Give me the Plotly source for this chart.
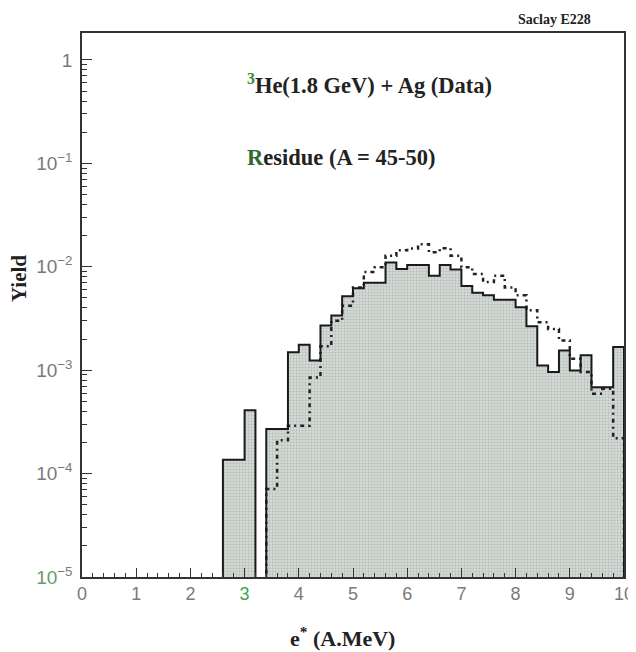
import plotly.graph_objects as go

# ---- data ----
bin_left = [2.6, 2.8, 3.0, 3.2, 3.4, 3.6, 3.8, 4.0, 4.2, 4.4, 4.6, 4.8, 5.0, 5.2, 5.4,
            5.6, 5.8, 6.0, 6.2, 6.4, 6.6, 6.8, 7.0, 7.2, 7.4, 7.6, 7.8, 8.0, 8.2, 8.4,
            8.6, 8.8, 9.0, 9.2, 9.4, 9.6, 9.8]
bin_width = 0.2
yield_data = [1.36e-4, 1.36e-4, 4.1e-4, 0.0, 2.7e-4, 2.7e-4, 1.49e-3, 1.76e-3, 1.24e-3, 2.7e-3,
              3.37e-3, 5.19e-3, 6.2e-3, 7.0e-3, 7.0e-3, 1.1e-2, 9.5e-3, 1.04e-2, 1.04e-2, 8.2e-3,
              1.04e-2, 9.4e-3, 6.5e-3, 5.6e-3, 5.3e-3, 4.8e-3, 4.8e-3, 4.06e-3, 2.66e-3, 1.11e-3,
              9.6e-4, 1.55e-3, 9.9e-4, 1.39e-3, 6.85e-4, 6.85e-4, 1.67e-3]
yield_dotted = [0.0, 0.0, 0.0, 0.0, 7.1e-5, 2.1e-4, 2.9e-4, 2.9e-4, 8.5e-4, 1.7e-3,
                3.0e-3, 4.2e-3, 6.3e-3, 8.9e-3, 9.9e-3, 1.28e-2, 1.44e-2, 1.5e-2, 1.65e-2, 1.38e-2,
                1.51e-2, 1.28e-2, 9.9e-3, 8.5e-3, 7.1e-3, 8.2e-3, 6.3e-3, 5.3e-3, 3.8e-3, 2.9e-3,
                2.5e-3, 1.94e-3, 1.29e-3, 9.6e-4, 5.9e-4, 6.6e-4, 2.2e-4]
x_ticks = [0, 1, 2, 3, 4, 5, 6, 7, 8, 9, 10]
x_ticktext = ["0", "1", "2", "<span style='color:#3fa33f'>3</span>", "4", "5", "6", "7", "8", "9", "10"]
y_tickvals = [1e-5, 1e-4, 1e-3, 1e-2, 1e-1, 1]
y_ticktext = ["<span style='color:#6a9a6a'>10</span><sup>−5</sup>", "10<sup>−4</sup>", "10<sup>−3</sup>",
              "10<sup>−2</sup>", "10<sup>−1</sup>", "1"]

FLOOR = 1e-7  # below the visible range: an empty bin


def step_path(lefts, vals, width):
    xs, ys = [], []
    i0 = 0
    while i0 < len(vals) and vals[i0] <= 0:
        i0 += 1
    xs.append(lefts[i0]); ys.append(FLOOR)
    for l, v in zip(lefts[i0:], vals[i0:]):
        xs.append(l); ys.append(v if v > 0 else FLOOR)
    end = lefts[-1] + width
    xs.append(end); ys.append(ys[-1])
    xs.append(end); ys.append(FLOOR)
    return xs, ys


sx, sy = step_path(bin_left, yield_data, bin_width)
dx, dy = step_path(bin_left, yield_dotted, bin_width)

fig = go.Figure()
fig.add_trace(go.Scatter(
    x=sx, y=sy, mode="lines", line=dict(width=0, shape="hv"),
    fill="toself", fillcolor="#cdd4d0",
    fillpattern=dict(shape=".", size=3, solidity=0.3, fgcolor="#939c97", bgcolor="#d4dad6"),
    hoverinfo="skip", showlegend=False))
fig.add_trace(go.Scatter(
    x=dx, y=dy, mode="lines",
    line=dict(color="#222222", width=2.5, shape="hv", dash="4px,4px,2px,4px"),
    showlegend=False))
fig.add_trace(go.Scatter(
    x=sx, y=sy, mode="lines", line=dict(color="#1a1a1a", width=2, shape="hv"),
    showlegend=False))

ytickfont = dict(family="Liberation Sans, Arial", size=19, color="#7a7a7a")
xtickfont = dict(family="Liberation Sans, Arial", size=18, color="#7a7a7a")

# the page body has an 8px margin, so the figure is 8px smaller than the window
fig.update_layout(
    width=628, height=644,
    margin=dict(l=74, r=12, t=25, b=75, autoexpand=False),
    paper_bgcolor="white", plot_bgcolor="white",
    xaxis=dict(range=[0, 10], tickvals=x_ticks, ticktext=x_ticktext, ticks="inside", ticklen=9,
               tickwidth=1, automargin=False, ticklabeloverflow="allow",
               tickcolor="#333", showline=True, linecolor="#333", linewidth=1.5, mirror=True,
               showgrid=False, zeroline=False, tickfont=xtickfont,
               minor=dict(ticks="inside", ticklen=4, dtick=0.2, tickcolor="#333", showgrid=False)),
    yaxis=dict(type="log", range=[-5, 0.26], tickvals=y_tickvals, ticktext=y_ticktext,
               ticks="inside", ticklen=10, tickwidth=1, tickcolor="#333", automargin=False,
               ticklabelstandoff=4, ticklabeloverflow="allow",
               showline=True, linecolor="#333", linewidth=1.5, mirror=True,
               showgrid=False, zeroline=False, tickfont=ytickfont,
               minor=dict(ticks="inside", ticklen=5, dtick="D1", tickcolor="#333", showgrid=False)),
    annotations=[
        dict(text="<b>Saclay E228</b>", xref="paper", yref="paper", x=0.943, y=1.0,
             xanchor="right", yanchor="bottom", yshift=4, showarrow=False,
             font=dict(family="Liberation Serif", size=14, color="#222")),
        dict(text="<b><span style='color:#2e8b2e'><sup>3</sup></span>He(1.8 GeV) + Ag (Data)</b>",
             xref="x", yref="paper",
             x=3.0, y=0.906, xanchor="left", yanchor="middle", showarrow=False,
             font=dict(family="Liberation Serif", size=22.5, color="#222")),
        dict(text="<b><span style='color:#2e6b2e'>R</span>esidue (A = 45-50)</b>", xref="x", yref="paper",
             x=3.0, y=0.772, xanchor="left", yanchor="middle", showarrow=False,
             font=dict(family="Liberation Serif", size=22.5, color="#222")),
        dict(text="<b>Yield</b>", xref="paper", yref="paper", x=-0.116, y=0.548,
             xanchor="center", yanchor="middle", textangle=-90, showarrow=False,
             font=dict(family="Liberation Serif", size=21, color="#222")),
        dict(text="<b>e<sup>*</sup> (A.MeV)</b>", xref="paper", yref="paper", x=0.48, y=-0.11,
             xanchor="center", yanchor="middle", showarrow=False,
             font=dict(family="Liberation Serif", size=22, color="#222")),
    ],
)

fig.write_html("out.html")
